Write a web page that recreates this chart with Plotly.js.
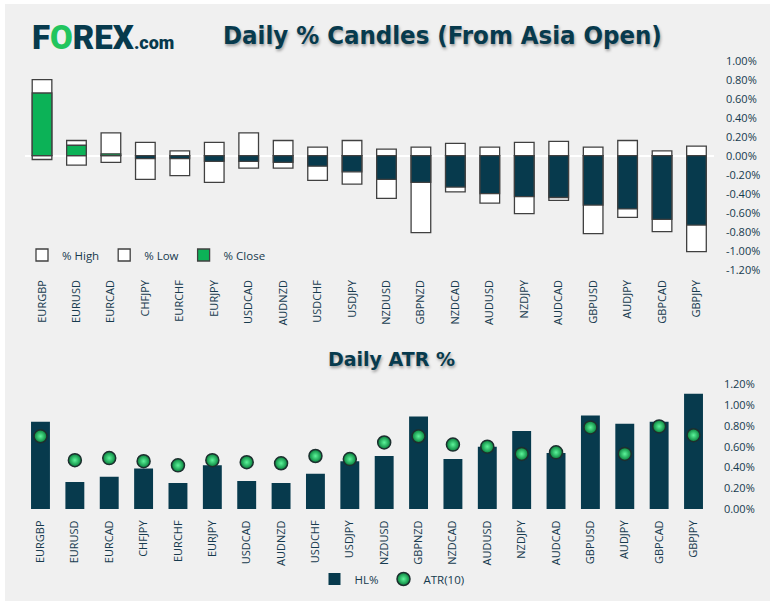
<!DOCTYPE html>
<html>
<head>
<meta charset="utf-8">
<script src="https://cdn.plot.ly/plotly-3.0.1.min.js"></script>
<style>
  html, body { margin: 0; padding: 0; background: #ffffff; }
  #chart { width: 776px; height: 606px; }
</style>
</head>
<body>
<div id="chart"></div>
<script>
// values, in percent
var pairs = ['EURGBP','EURUSD','EURCAD','CHFJPY','EURCHF','EURJPY','USDCAD','AUDNZD','USDCHF','USDJPY',
             'NZDUSD','GBPNZD','NZDCAD','AUDUSD','NZDJPY','AUDCAD','GBPUSD','AUDJPY','GBPCAD','GBPJPY'];
var pctHigh  = [0.80, 0.16, 0.24, 0.14, 0.05, 0.14, 0.24, 0.16, 0.09, 0.16,
                0.07, 0.09, 0.13, 0.09, 0.14, 0.15, 0.09, 0.16, 0.05, 0.10];
var pctLow   = [-0.04, -0.10, -0.07, -0.25, -0.21, -0.28, -0.13, -0.13, -0.26, -0.30,
                -0.45, -0.81, -0.38, -0.50, -0.61, -0.47, -0.82, -0.65, -0.80, -1.01];
var pctClose = [0.66, 0.11, 0.02, -0.03, -0.03, -0.06, -0.06, -0.07, -0.11, -0.17,
                -0.25, -0.28, -0.33, -0.40, -0.43, -0.44, -0.52, -0.56, -0.67, -0.73];
var hlPct    = [0.84, 0.26, 0.31, 0.39, 0.25, 0.42, 0.27, 0.25, 0.34, 0.46,
                0.51, 0.89, 0.48, 0.60, 0.75, 0.54, 0.90, 0.82, 0.84, 1.11];
var atr10    = [0.70, 0.47, 0.49, 0.46, 0.42, 0.47, 0.45, 0.44, 0.51, 0.48,
                0.64, 0.70, 0.62, 0.60, 0.53, 0.545, 0.785, 0.53, 0.795, 0.71];
var candleTicks = [1.0, 0.8, 0.6, 0.4, 0.2, 0, -0.2, -0.4, -0.6, -0.8, -1.0, -1.2];
var atrTicks = [0, 0.2, 0.4, 0.6, 0.8, 1.0, 1.2];

var W = 776, H = 606;
var teal = '#073a4d';
var green = '#0cb257';
var txtCol = '#163a4e';
var edge = '#404040';

function px(x) { return x / W; }
function py(y) { return 1 - y / H; }
function pctText(v) { return v.toFixed(2) + '%'; }

var closeCols = pctClose.map(function(v){ return v >= 0 ? green : teal; });
var catRange = [-0.5, pairs.length - 0.5];

var traces = [
  {type:'bar', name:'% High', x:pairs, y:pctHigh, xaxis:'x', yaxis:'y', width:0.57,
   marker:{color:'#ffffff', line:{color:edge, width:1.3}}, legend:'legend', hoverinfo:'x+y'},
  {type:'bar', name:'% Low', x:pairs, y:pctLow, xaxis:'x', yaxis:'y', width:0.57,
   marker:{color:'#ffffff', line:{color:edge, width:1.3}}, legend:'legend', hoverinfo:'x+y'},
  {type:'bar', name:'% Close', x:pairs, y:pctClose, xaxis:'x', yaxis:'y', width:0.57,
   marker:{color:closeCols, line:{color:edge, width:1.3}}, legend:'legend', hoverinfo:'x+y'},
  {type:'bar', name:'HL%', x:pairs, y:hlPct, xaxis:'x2', yaxis:'y2', width:0.55,
   marker:{color:teal}, legend:'legend2', hoverinfo:'x+y'},
  {type:'scatter', mode:'markers', name:'ATR(10)', x:pairs, y:atr10, xaxis:'x2', yaxis:'y2',
   marker:{size:13, color:'#07803b', gradient:{type:'radial', color:'#5df59a'},
           line:{color:'#1d2f2f', width:1.5}}, legend:'legend2', hoverinfo:'x+y'}
];

var tickFont = {family:'Open Sans, Noto Sans, sans-serif', size:11, color:txtCol};
var legFont = {family:'Open Sans, Noto Sans, sans-serif', size:11.5, color:txtCol};

var layout = {
  width: W, height: H,
  margin: {l:0, r:0, t:0, b:0},
  paper_bgcolor: '#ffffff',
  plot_bgcolor: 'rgba(0,0,0,0)',
  barmode: 'overlay',
  xaxis: {domain:[px(24.8), px(713.7)], anchor:'y', type:'category', range:catRange, tickangle:-90,
          tickfont:tickFont, ticks:'outside', ticklen:5, tickcolor:'rgba(0,0,0,0)',
          showgrid:false, showline:false, zeroline:false, fixedrange:true},
  yaxis: {domain:[py(269.7), py(60.7)], anchor:'x', side:'right', range:[-1.2, 1.0],
          tickvals:candleTicks, ticktext:candleTicks.map(pctText), tickfont:tickFont,
          ticks:'outside', ticklen:9, tickcolor:'rgba(0,0,0,0)',
          showgrid:false, zeroline:true, zerolinecolor:'#ffffff', zerolinewidth:1.5,
          fixedrange:true},
  xaxis2: {domain:[px(23.3), px(710.7)], anchor:'y2', type:'category', range:catRange, tickangle:-90,
           tickfont:tickFont, ticks:'outside', ticklen:6, tickcolor:'rgba(0,0,0,0)',
           showgrid:false, showline:false, zeroline:false, fixedrange:true},
  yaxis2: {domain:[py(509), py(384.3)], anchor:'x2', side:'right', range:[0, 1.2],
           tickvals:atrTicks, ticktext:atrTicks.map(pctText), tickfont:tickFont,
           ticks:'outside', ticklen:10, tickcolor:'rgba(0,0,0,0)',
           showgrid:false, zeroline:false, fixedrange:true},
  legend: {orientation:'h', x:px(22), y:py(255), xanchor:'left', yanchor:'middle',
           bgcolor:'rgba(0,0,0,0)', font:legFont, itemwidth:30, traceorder:'normal'},
  legend2: {orientation:'h', x:px(392), y:py(579), xanchor:'center', yanchor:'middle',
            bgcolor:'rgba(0,0,0,0)', font:legFont, itemwidth:30, traceorder:'normal'},
  showlegend: true,
  shapes: [
    {type:'rect', xref:'paper', yref:'paper', x0:px(5), x1:px(770), y0:py(601), y1:py(4),
     fillcolor:'#f0f0f0', line:{width:0}, layer:'below'}
  ],
  annotations: [
    {xref:'paper', yref:'paper', x:px(30), y:py(37), xanchor:'left', yanchor:'middle', showarrow:false,
     text:'F<span style="color:#22c55e">O</span>REX<span style="font-size:18px">.com</span>',
     font:{family:'Roboto, sans-serif', size:33, weight:900, color:teal}},
    {xref:'paper', yref:'paper', x:px(442), y:py(35), xanchor:'center', yanchor:'middle', showarrow:false,
     text:'Daily % Candles (From Asia Open)',
     font:{family:'DejaVu Sans Condensed, DejaVu Sans, sans-serif', size:25.5, weight:'bold', color:teal,
           shadow:'1px 2px 3px rgba(0,0,0,0.35)'}},
    {xref:'paper', yref:'paper', x:px(391), y:py(359), xanchor:'center', yanchor:'middle', showarrow:false,
     text:'Daily ATR %',
     font:{family:'DejaVu Sans, sans-serif', size:19, weight:'bold', color:teal,
           shadow:'1px 2px 3px rgba(0,0,0,0.35)'}}
  ]
};

Plotly.newPlot('chart', traces, layout, {displayModeBar:false});
</script>
</body>
</html>
